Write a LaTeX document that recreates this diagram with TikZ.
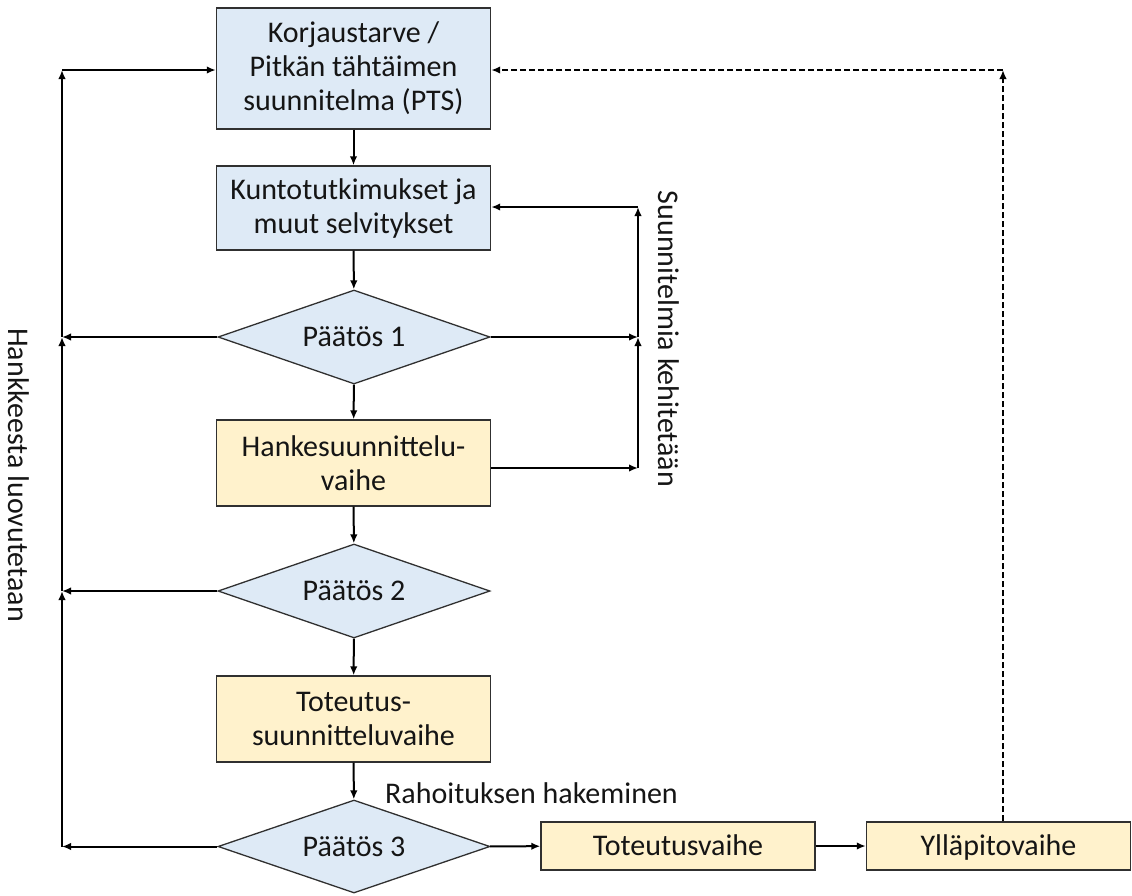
\documentclass[tikz,border=0pt]{standalone}
\usepackage{fontspec}
\setmainfont{Carlito}
\usetikzlibrary{arrows.meta,shapes.geometric}
\definecolor{boxblue}{HTML}{DEEAF6}
\definecolor{boxyellow}{HTML}{FFF2CC}
\definecolor{edgegray}{HTML}{303030}
\definecolor{txt}{HTML}{151515}
\tikzset{
  stepbox/.style={draw=edgegray, line width=1.4pt, rectangle, minimum width=274pt, inner sep=0pt, align=center, text=txt, font=\fontsize{30}{34}\selectfont},
  bluebox/.style={stepbox, fill=boxblue},
  yellowbox/.style={stepbox, fill=boxyellow},
  onerow/.style={text height=22pt, text depth=3pt},
  decision/.style={draw=edgegray, line width=1.3pt, diamond, aspect=2.9, fill=boxblue, minimum width=272pt, minimum height=94pt, inner sep=0pt, text=txt, font=\fontsize{30}{34}\selectfont},
  arr/.style={line width=2pt, -{Latex[length=9pt,width=7.5pt]}},
  lbl/.style={font=\fontsize{30}{34}\selectfont, inner sep=0pt, text=txt},
}
\begin{document}
\begin{tikzpicture}[x=1pt,y=-1pt]
\useasboundingbox (0,0) rectangle (1132,895);
% main column
\node[bluebox, minimum height=121pt] (b1) at (353.5,68.5) {Korjaustarve /\\Pitkän tähtäimen\\suunnitelma (PTS)};
\node[bluebox, minimum height=84pt] (b2) at (353.5,208) {Kuntotutkimukset ja\\muut selvitykset};
\node[decision] (d1) at (354,337) {Päätös 1};
\node[yellowbox, minimum height=86pt] (b3) at (353.5,463) {Hankesuunnittelu-\\vaihe};
\node[decision] (d2) at (354,591) {Päätös 2};
\node[yellowbox, minimum height=86pt] (b4) at (353.5,719) {Toteutus-\\suunnitteluvaihe};
\node[decision, minimum height=93pt] (d3) at (354,846.5) {Päätös 3};
\node[yellowbox, onerow, minimum height=48pt] (b5) at (678,846) {Toteutusvaihe};
\node[yellowbox, onerow, minimum height=48pt, minimum width=264pt] (b6) at (998.5,846) {Ylläpitovaihe};
% labels
\node[lbl, anchor=west] (rah) at (385,793) {Rahoituksen hakeminen};
\node[lbl, rotate=-90] (suu) at (669,339) {Suunnitelmia kehitetään};
\node[lbl, rotate=-90] (han) at (19,475) {Hankkeesta luovutetaan};
% coordinates
\coordinate (l0) at (62,70);
\coordinate (l1) at (62,337);
\coordinate (l2) at (62,591);
\coordinate (l3) at (62,846.5);
\coordinate (r0) at (638,207);
\coordinate (r1) at (638,337);
\coordinate (r2) at (638,468);
\coordinate (t0) at (1003,70);
% main flow
\draw[arr] (b1) -- (b2);
\draw[arr] (b2) -- (d1);
\draw[arr] (d1) -- (b3);
\draw[arr] (b3) -- (d2);
\draw[arr] (d2) -- (b4);
\draw[arr] (b4) -- (d3);
\draw[arr] (d3) -- (b5);
\draw[arr] (b5) -- (b6);
% left loop
\draw[arr] (d1.west) -- (l1);
\draw[arr] (d2.west) -- (l2);
\draw[arr] (d3.west) -- (l3);
\draw[arr] (l3) -- (l2);
\draw[arr] (l2) -- (l1);
\draw[arr] (l1) -- (l0);
\draw[arr] (l0) -- (b1.west |- l0);
% right loop
\draw[arr] (b3.east |- r2) -- (r2);
\draw[arr] (d1.east) -- (r1);
\draw[arr] (r2) -- (r1);
\draw[arr] (r1) -- (r0);
\draw[arr] (r0) -- (b2.east |- r0);
% dashed return
\draw[arr, dash pattern=on 6pt off 3pt] (b6.north -| t0) -- (t0);
\draw[arr, dash pattern=on 6pt off 3pt] (t0) -- (b1.east |- t0);
\end{tikzpicture}
\end{document}
